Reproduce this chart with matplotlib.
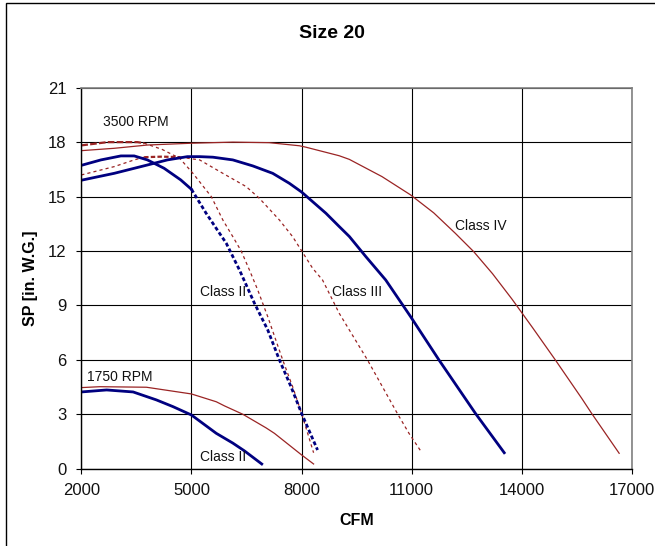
import matplotlib
matplotlib.use("Agg")
import matplotlib.pyplot as plt
from matplotlib.patches import Rectangle

plt.rcParams['font.family'] = ['Liberation Sans', 'DejaVu Sans']

# 3500 RPM - blue class II (solid part, then dashed extension)
b35_ii_cfm = [2000, 2535, 3078, 3440, 3800, 4254, 4707, 5000]
b35_ii_sp = [16.72, 17.02, 17.24, 17.24, 17.02, 16.56, 15.92, 15.4]
b35_ii_ext_cfm = [5000, 5400, 5950, 6309, 6716, 7078, 7395, 7712, 8000, 8435]
b35_ii_ext_sp = [15.4, 14.08, 12.42, 10.95, 9.12, 7.65, 6.0, 4.52, 3.05, 1.03]

# 3500 RPM - blue class III
b35_iii_cfm = [2000, 2896, 3800, 4346, 4888, 5223, 5584, 6127, 6670, 7214, 7667,
               8000, 8663, 9024, 9300, 9750, 10292, 10970, 11740, 12735, 13520]
b35_iii_sp = [15.9, 16.28, 16.74, 17.02, 17.2, 17.2, 17.17, 17.02, 16.69, 16.28, 15.73,
              15.25, 14.08, 13.35, 12.8, 11.69, 10.4, 8.38, 6.0, 3.05, 0.88]

# 3500 RPM - red class II (dashed head, dotted body)
r35_ii_head_cfm = [2000, 2715, 3530, 3711]
r35_ii_head_sp = [17.82, 18.0, 18.0, 17.94]
r35_ii_cfm = [3711, 4200, 4680, 5041, 5540, 5855, 6127, 6355, 6580, 6806, 7078,
              7485, 7756, 8000, 8327]
r35_ii_sp = [17.94, 17.6, 17.11, 16.28, 15.0, 13.71, 12.79, 12.0, 10.95, 9.85, 8.38,
             6.0, 4.52, 3.05, 0.88]

# 3500 RPM - red class III (dotted, dashed flat part)
r35_iii_a_cfm = [2000, 2896, 3440, 3711]
r35_iii_a_sp = [16.19, 16.65, 17.02, 17.17]
r35_iii_flat_cfm = [3711, 4200, 4700]
r35_iii_flat_sp = [17.17, 17.2, 17.17]
r35_iii_cfm = [4700, 5223, 5855, 6490, 6852, 7395, 7756, 7985, 8300, 8571, 9024,
               9793, 10607, 10925, 11270]
r35_iii_sp = [17.17, 17.02, 16.28, 15.55, 14.9, 13.71, 12.79, 12.06, 11.05, 10.4, 8.57,
              6.0, 3.05, 1.95, 0.9]

# 3500 RPM - red class IV
r35_iv_cfm = [2000, 2896, 3800, 5000, 6128, 7120, 7938, 8120, 9024, 9300, 10190, 10970,
              11600, 12190, 12690, 13200, 13730, 14300, 14910, 15630, 15900, 16650]
r35_iv_sp = [17.53, 17.66, 17.84, 17.94, 18.0, 17.97, 17.8, 17.72, 17.25, 17.05, 16.1, 15.09,
             14.1, 12.97, 11.96, 10.75, 9.35, 7.75, 6.0, 3.88, 3.05, 0.85]

# 1750 RPM
b17_ii_cfm = [2000, 2690, 3412, 4047, 4498, 5000, 5676, 5902, 6128, 6445, 6915]
b17_ii_sp = [4.23, 4.34, 4.23, 3.79, 3.42, 2.96, 1.95, 1.68, 1.41, 0.98, 0.26]
r17_cfm = [2000, 2508, 3775, 5000, 5676, 5902, 6400, 7033, 7260, 8000, 8327]
r17_sp = [4.47, 4.52, 4.49, 4.12, 3.69, 3.46, 3.0, 2.25, 1.95, 0.76, 0.26]

labels = [("3500 RPM", 2590, 19.1), ("1750 RPM", 2155, 5.07),
          ("Class II", 5225, 9.76), ("Class II", 5225, 0.66),
          ("Class III", 8825, 9.76), ("Class IV", 12190, 13.4)]

x_ticks = [2000, 5000, 8000, 11000, 14000, 17000]
y_ticks = [0, 3, 6, 9, 12, 15, 18, 21]

blue = '#000080'
red = '#9a2424'

fig = plt.figure(figsize=(6.55, 5.46), dpi=100)
ax = fig.add_axes([81.3 / 655, 1 - 468.7 / 546, (632 - 81.3) / 655, (468.7 - 87.7) / 546])

ax.plot(r35_iv_cfm, r35_iv_sp, color=red, lw=0.9)
ax.plot(r17_cfm, r17_sp, color=red, lw=0.9)
ax.plot(r35_ii_head_cfm, r35_ii_head_sp, color=red, lw=1.6, ls=(0, (3, 1)))
ax.plot(r35_ii_cfm, r35_ii_sp, color=red, lw=0.9, ls=(0, (2.5, 2.5)))
ax.plot(r35_iii_a_cfm, r35_iii_a_sp, color=red, lw=0.9, ls=(0, (2.5, 2.5)))
ax.plot(r35_iii_flat_cfm, r35_iii_flat_sp, color=red, lw=1.6, ls=(0, (2, 1)))
ax.plot(r35_iii_cfm, r35_iii_sp, color=red, lw=0.9, ls=(0, (2.5, 2.5)))
ax.plot(b35_iii_cfm, b35_iii_sp, color=blue, lw=2.0)
ax.plot(b35_ii_cfm, b35_ii_sp, color=blue, lw=2.0)
ax.plot(b35_ii_ext_cfm, b35_ii_ext_sp, color=blue, lw=2.0, ls=(0, (1.4, 0.9)))
ax.plot(b17_ii_cfm, b17_ii_sp, color=blue, lw=2.0)

for txt, x, y in labels:
    ax.text(x, y, txt, fontsize=10, ha='left', va='center', color='#111111')

ax.set_xlim(2000, 17000)
ax.set_ylim(0, 21)
ax.set_xticks(x_ticks)
ax.set_yticks(y_ticks)
ax.grid(True, color='black', lw=0.8)
ax.set_axisbelow(True)
ax.tick_params(direction='out', length=3.6, width=0.8, labelsize=12, pad=7,
               colors='black', labelcolor='#111111')
for side in ('top', 'right'):
    ax.spines[side].set_color('#808080')
    ax.spines[side].set_linewidth(1.2)
for side in ('left', 'bottom'):
    ax.spines[side].set_color('black')
    ax.spines[side].set_linewidth(1.0)

fig.text(331.7 / 655, 1 - 33.3 / 546, "Size 20", fontsize=14, fontweight='bold',
         ha='center', va='center')
fig.text(356.5 / 655, 1 - 520.7 / 546, "CFM", fontsize=11.5, fontweight='bold',
         ha='center', va='center')
fig.text(30 / 655, 1 - 278 / 546, "SP [in. W.G.]", fontsize=11.5, fontweight='bold',
         rotation=90, ha='center', va='center')

fig.patches.append(Rectangle((5.5 / 655, -0.1), 1.2, 1.1 - 3 / 546, transform=fig.transFigure,
                             fill=False, edgecolor='black', lw=1.0))

fig.savefig("out.png", dpi=100)
